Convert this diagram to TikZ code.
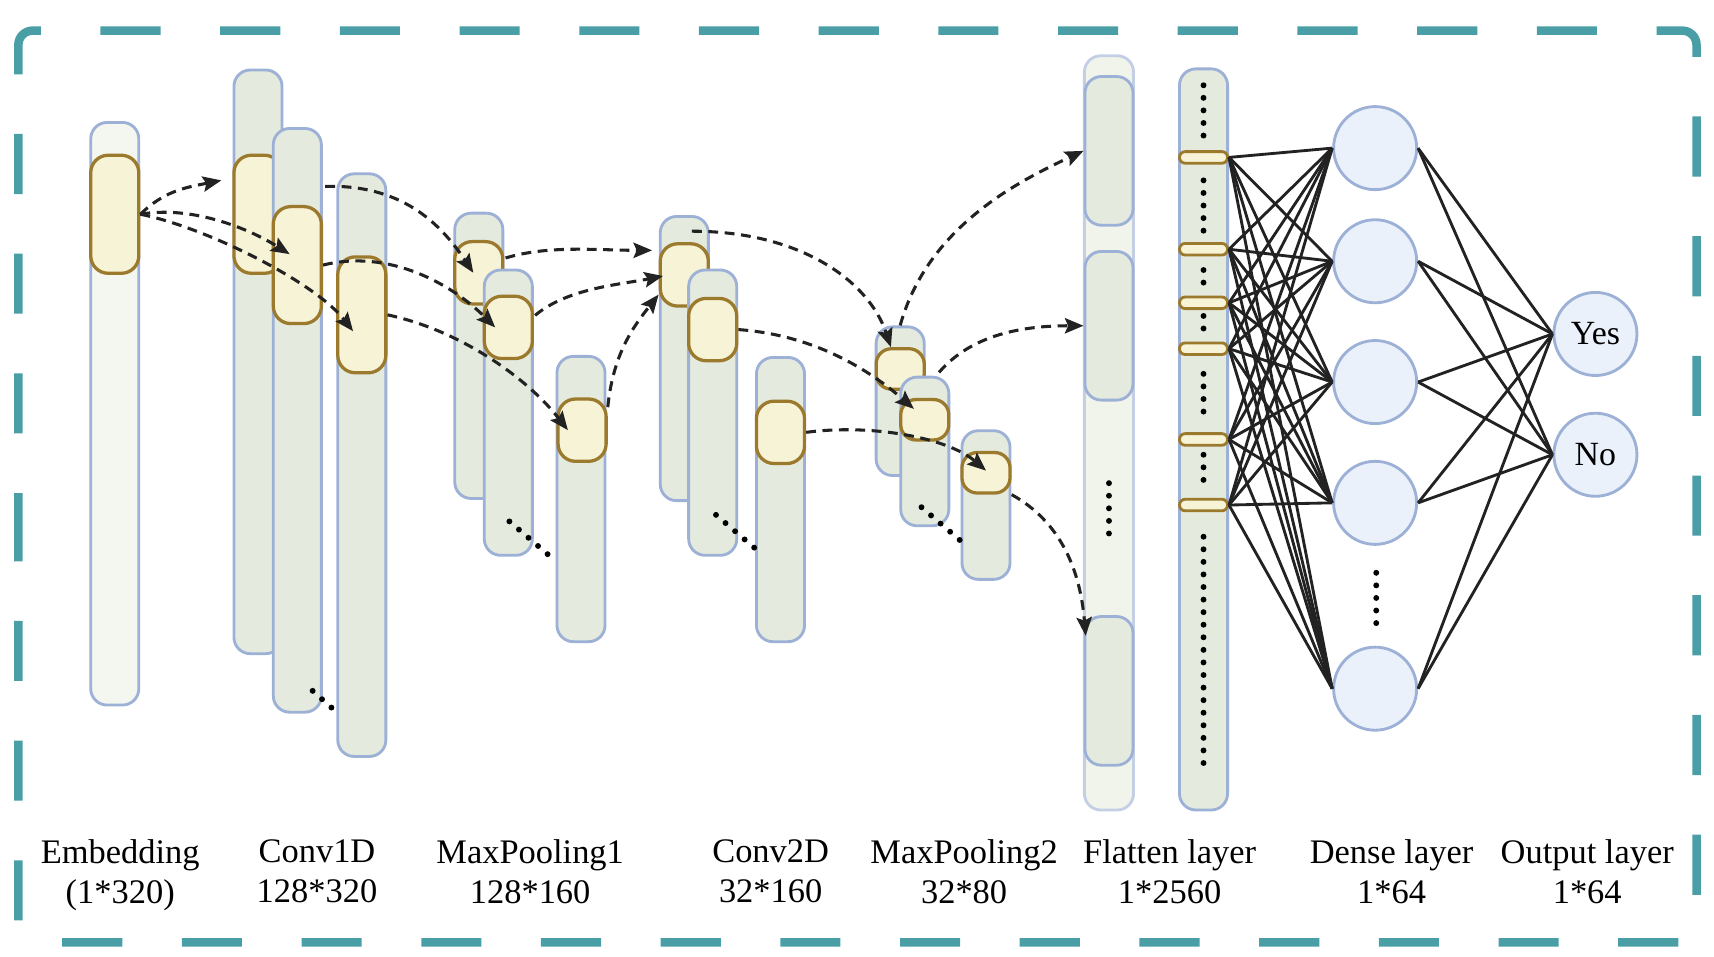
\documentclass[tikz,border=0pt]{standalone}
\usepackage{fontspec}
\setmainfont{Liberation Serif}
\usepackage{xcolor}
\definecolor{frameteal}{RGB}{74,158,166}
\definecolor{barline}{RGB}{157,176,214}
\definecolor{barfill}{RGB}{228,234,222}
\definecolor{embfill}{RGB}{244,246,240}
\definecolor{flatline}{RGB}{196,207,230}
\definecolor{flatfill}{RGB}{241,244,234}
\definecolor{keyfill}{RGB}{247,243,214}
\definecolor{keyline}{RGB}{155,122,46}
\definecolor{neurfill}{RGB}{234,241,251}
\definecolor{inkk}{RGB}{34,34,34}
\usetikzlibrary{arrows.meta}

\begin{document}
\begin{tikzpicture}[x=0.5pt,y=-0.5pt,>={Stealth[length=8.5pt,width=7pt,inset=1.5pt]},line join=round]
        \tikzstyle{bar}=[rectangle,rounded corners=7.5pt,draw=barline,fill=barfill,line width=1.3pt,minimum width=22pt,inner sep=0pt]
        \tikzstyle{flat}=[bar,draw=flatline,fill=flatfill]
        \tikzstyle{kernel}=[rectangle,rounded corners=8pt,draw=keyline,fill=keyfill,line width=1.5pt,minimum width=22pt,inner sep=0pt]
        \tikzstyle{pill}=[kernel,rounded corners=2.6pt,minimum height=5.3pt,line width=1.3pt]
        \tikzstyle{neuron}=[circle,draw=barline,fill=neurfill,line width=1.3pt,minimum size=38pt,inner sep=0pt,font=\fontsize{15.5pt}{15.5pt}\selectfont]
        \tikzstyle{flow}=[->,draw=inkk,line width=1.4pt,dash pattern=on 4.5pt off 3pt]
        \tikzstyle{fc}=[draw=inkk,line width=1.3pt]
        \tikzstyle{dotcol}=[draw=black,line width=2.7pt,line cap=round,dash pattern=on 0pt off 5.75pt]
        \tikzstyle{layerlab}=[anchor=north,align=center,inner sep=0pt,font=\fontsize{15.75pt}{18pt}\selectfont]

        \useasboundingbox (0,0) rectangle (1568,875);
        \draw[frameteal,line width=3.9pt,rounded corners=6.5pt,dash pattern=on 27.5pt off 27.25pt,dash phase=9.5pt]
             (16.8,500) -- (16.8,28) -- (1552,28) -- (1552,862) -- (16.8,862) -- cycle;

        % embedding
        \node[bar,fill=embfill,minimum height=266.5pt] (emb) at (105,378.5) {};
        \node[kernel,minimum height=54pt] (embk) at (105,196) {};
        % conv1d
        \node[bar,minimum height=267pt] (c1a) at (236,331) {};
        \node[kernel,minimum height=54pt] (c1ak) at (236,196) {};
        \node[bar,minimum height=267pt] (c1b) at (272,384.5) {};
        \node[kernel,minimum height=53.5pt] (c1bk) at (272,242.5) {};
        \node[bar,minimum height=266.5pt] (c1c) at (331,425.5) {};
        \node[kernel,minimum height=53pt] (c1ck) at (331,288) {};
        % maxpooling1
        \node[bar,minimum height=130.5pt] (p1a) at (438,325.5) {};
        \node[kernel,minimum height=28.5pt] (p1ak) at (438,249.5) {};
        \node[bar,minimum height=130.5pt] (p1b) at (465,377.5) {};
        \node[kernel,minimum height=28.5pt] (p1bk) at (465,299.5) {};
        \node[bar,minimum height=130.5pt] (p1c) at (531.5,456.5) {};
        \node[kernel,minimum height=28.5pt] (p1ck) at (532.5,393.5) {};
        % conv2d
        \node[bar,minimum height=130pt] (c2a) at (626,328) {};
        \node[kernel,minimum height=28.5pt] (c2ak) at (626,251.5) {};
        \node[bar,minimum height=130.5pt] (c2b) at (652,377.5) {};
        \node[kernel,minimum height=28.5pt] (c2bk) at (652,301.5) {};
        \node[bar,minimum height=130pt] (c2c) at (714,457) {};
        \node[kernel,minimum height=28.5pt] (c2ck) at (714,395.5) {};
        % maxpooling2
        \node[bar,minimum height=68pt] (p2a) at (823.5,367) {};
        \node[kernel,rounded corners=7pt,minimum height=18.5pt] (p2ak) at (823.5,337.5) {};
        \node[bar,minimum height=68pt] (p2b) at (846,413) {};
        \node[kernel,rounded corners=7pt,minimum height=18.5pt] (p2bk) at (846,384) {};
        \node[bar,minimum height=68pt] (p2c) at (902,462) {};
        \node[kernel,rounded corners=7pt,minimum height=18.5pt] (p2ck) at (902,432.5) {};
        % flatten
        \node[flat,minimum width=22.5pt,minimum height=345pt] (fl) at (1014.5,396) {};
        \node[bar,minimum height=68pt] (fl1) at (1014.5,138) {};
        \node[bar,minimum height=68pt] (fl2) at (1014.5,298) {};
        \node[bar,minimum height=68pt] (fl3) at (1014.5,632) {};
        \node[bar,minimum height=339pt] (dn) at (1101,402) {};
        \node[pill] (q1) at (1101,144) {};
        \node[pill] (q2) at (1101,228) {};
        \node[pill] (q3) at (1101,277) {};
        \node[pill] (q4) at (1101,319) {};
        \node[pill] (q5) at (1101,402) {};
        \node[pill] (q6) at (1101,462) {};
        % dense and output
        \node[neuron] (d1) at (1258,135.5) {};
        \node[neuron] (d2) at (1258,239) {};
        \node[neuron] (d3) at (1258,349.5) {};
        \node[neuron] (d4) at (1258,460) {};
        \node[neuron] (d5) at (1258,630) {};
        \node[neuron] (yes) at (1459.5,305.5) {Yes};
        \node[neuron] (no) at (1459.5,416) {No};

        \draw[dotcol] (286,632) -- (304,648);
        \draw[dotcol] (466,477) -- (501,507);
        \draw[dotcol] (655,471) -- (690,501);
        \draw[dotcol] (843,464) -- (878,494);
        \draw[dotcol] (1014.5,442) -- (1014.5,489);
        \draw[dotcol] (1101,78) -- (1101,125);
        \draw[dotcol] (1101,165) -- (1101,212);
        \draw[dotcol] (1101,247) -- (1101,259);
        \draw[dotcol] (1101,289) -- (1101,301);
        \draw[dotcol] (1101,342) -- (1101,377);
        \draw[dotcol] (1101,416) -- (1101,440);
        \draw[dotcol] (1101,491) -- (1101,698);
        \draw[dotcol] (1259,524) -- (1259,571);

        \draw[flow] (embk.east) .. controls +(22,-22) and +(-30,6) .. ([shift={(-10,-31)}]c1ak.west);
        \draw[flow] (embk.east) .. controls +(45,-8) and +(-40,-25) .. ([shift={(-7,-10)}]c1bk.center);
        \draw[flow] (embk.east) .. controls +(60,12) and +(-35,-45) .. ([shift={(-8,15)}]c1ck.center);
        \draw[flow] ([shift={(2,-17)}]c1bk.north east) .. controls +(70,-2) and +(-30,-45) .. ([shift={(-5,0)}]p1ak.center);
        \draw[flow] (c1bk.east) .. controls +(60,-15) and +(-40,-40) .. ([shift={(-12,0)}]p1bk.center);
        \draw[flow] (c1ck.east) .. controls +(70,15) and +(-35,-45) .. ([shift={(-13,0)}]p1ck.center);
        \draw[flow] ([shift={(1,-13.5)}]p1ak.east) .. controls +(40,-12) and +(-50,0) .. ([shift={(-6,-22.5)}]c2ak.west);
        \draw[flow] ([shift={(1,-11)}]p1bk.east) .. controls +(30,-25) and +(-40,8) .. ([shift={(4,1)}]c2ak.west);
        \draw[flow] ([shift={(0,9)}]p1ck.north east) .. controls +(5,-50) and +(-22,28) .. ([shift={(0,-12)}]c2ak.south west);
        \draw[flow] ([shift={(7,-10)}]c2ak.north) .. controls +(100,0) and +(-20,-60) .. ([shift={(-8.5,0)}]p2ak.north);
        \draw[flow] (c2bk.east) .. controls +(70,5) and +(-40,-35) .. ([shift={(-10,-10)}]p2bk.center);
        \draw[flow] (c2ck.east) .. controls +(60,-8) and +(-35,-30) .. ([shift={(0,-2)}]p2ck.center);
        \draw[flow] (p2a.north) .. controls +(25,-90) and +(-60,28) .. (fl1.west);
        \draw[flow] ([shift={(13,-3)}]p2b.north) .. controls +(30,-35) and +(-55,0) .. (fl2.west);
        \draw[flow] (p2ck.south east) .. controls +(45,25) and +(-5,-60) .. ([shift={(2,19)}]fl3.north west);

        \path[fc] (q1.east) edge (d1.west) edge (d2.west) edge (d3.west) edge (d4.west) edge (d5.west)
                  (q2.east) edge (d1.west) edge (d2.west) edge (d3.west) edge (d4.west) edge (d5.west)
                  (q3.east) edge (d1.west) edge (d2.west) edge (d3.west) edge (d4.west) edge (d5.west)
                  (q4.east) edge (d1.west) edge (d2.west) edge (d3.west) edge (d4.west) edge (d5.west)
                  (q5.east) edge (d1.west) edge (d2.west) edge (d3.west) edge (d4.west) edge (d5.west)
                  (q6.east) edge (d1.west) edge (d2.west) edge (d3.west) edge (d4.west) edge (d5.west)
        ;
        \path[fc] (d1.east) edge (yes.west) edge (no.west)
                  (d2.east) edge (yes.west) edge (no.west)
                  (d3.east) edge (yes.west) edge (no.west)
                  (d4.east) edge (yes.west) edge (no.west)
                  (d5.east) edge (yes.west) edge (no.west)
        ;

        \node[layerlab] (lemb) at (110,768) {Embedding\\(1*320)};
        \node[layerlab] (lc1) at (290,768) {Conv1D\\128*320};
        \node[layerlab] (lp1) at (485,768) {MaxPooling1\\128*160};
        \node[layerlab] (lc2) at (705,768) {Conv2D\\32*160};
        \node[layerlab] (lp2) at (882,768) {MaxPooling2\\32*80};
        \node[layerlab] (lfl) at (1070,768) {Flatten layer\\1*2560};
        \node[layerlab] (ldn) at (1273,768) {Dense layer\\1*64};
        \node[layerlab] (lout) at (1452,768) {Output layer\\1*64};
\end{tikzpicture}
\end{document}
